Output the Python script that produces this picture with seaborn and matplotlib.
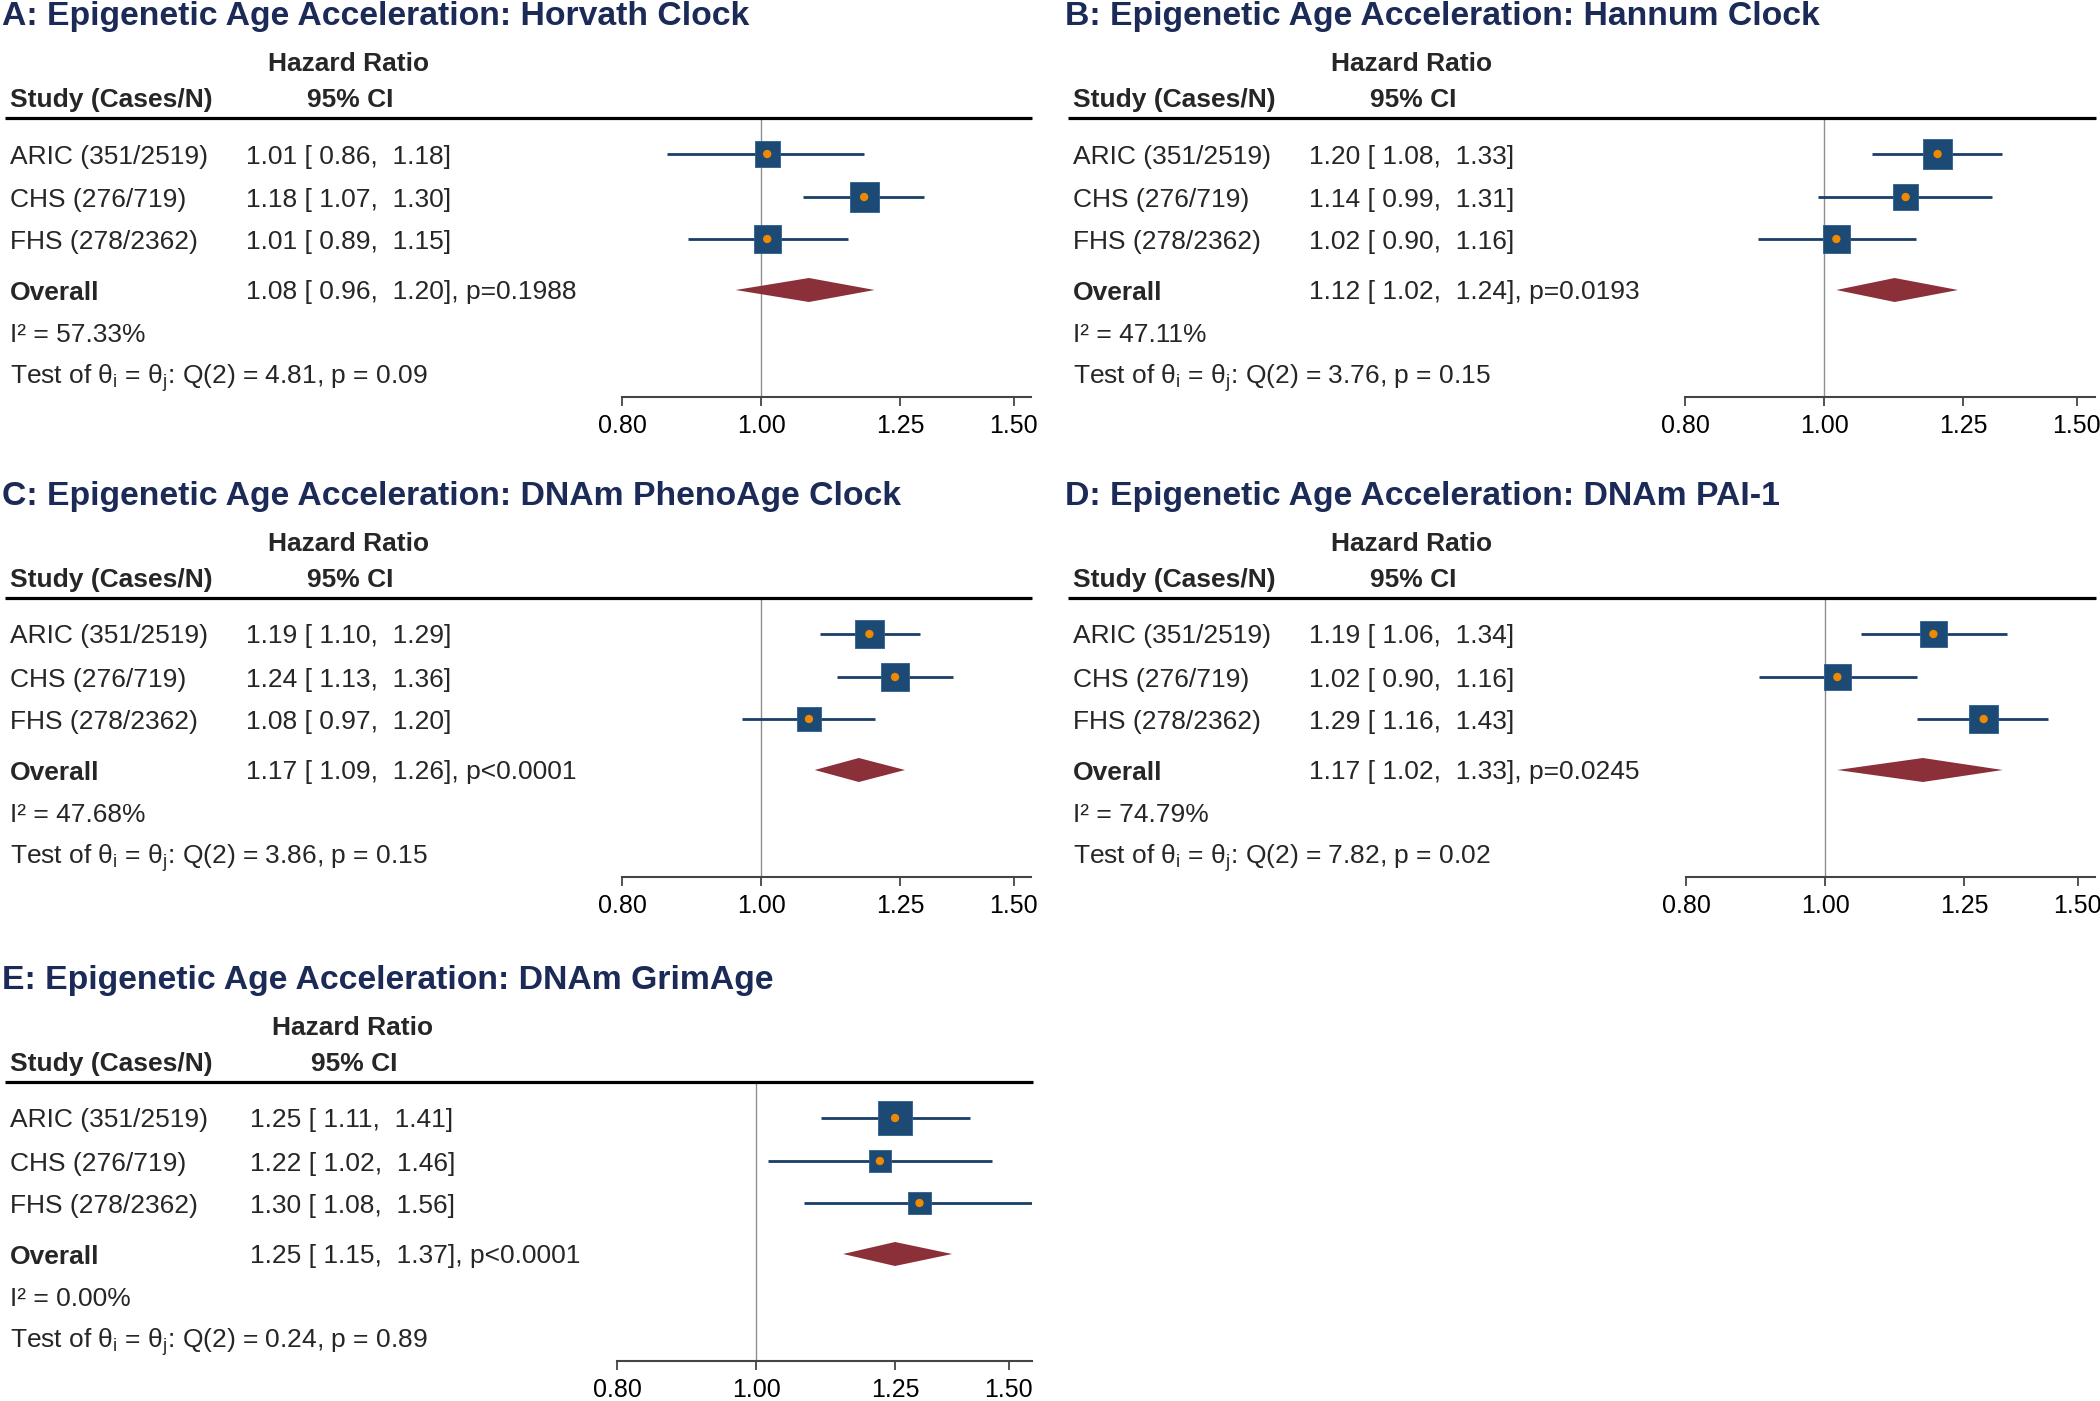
import numpy as np
import pandas as pd
import matplotlib
matplotlib.use('Agg')
import matplotlib.pyplot as plt
import matplotlib.transforms as mtransforms
import seaborn as sns

# ---- data ----
panel_titles = ['A: Epigenetic Age Acceleration: Horvath Clock',
                'B: Epigenetic Age Acceleration: Hannum Clock',
                'C: Epigenetic Age Acceleration: DNAm PhenoAge Clock',
                'D: Epigenetic Age Acceleration: DNAm PAI-1',
                'E: Epigenetic Age Acceleration: DNAm GrimAge']
studies = ['ARIC (351/2519)', 'CHS (276/719)', 'FHS (278/2362)']

study_hr = [[1.01, 1.18, 1.01], [1.20, 1.14, 1.02], [1.19, 1.24, 1.08],
            [1.19, 1.02, 1.29], [1.25, 1.22, 1.30]]
study_lo = [[0.86, 1.07, 0.89], [1.08, 0.99, 0.90], [1.10, 1.13, 0.97],
            [1.06, 0.90, 1.16], [1.11, 1.02, 1.08]]
study_hi = [[1.18, 1.30, 1.15], [1.33, 1.31, 1.16], [1.29, 1.36, 1.20],
            [1.34, 1.16, 1.43], [1.41, 1.46, 1.56]]
# study weights (%)
study_wt = [[28.5, 38.3, 33.2], [38.3, 28.5, 33.2], [37.4, 34.8, 27.8],
            [31.8, 31.8, 36.5], [52.9, 23.5, 23.5]]

overall_hr = [1.08, 1.12, 1.17, 1.17, 1.25]
overall_lo = [0.96, 1.02, 1.09, 1.02, 1.15]
overall_hi = [1.20, 1.24, 1.26, 1.33, 1.37]
overall_p = ['p=0.1988', 'p=0.0193', 'p<0.0001', 'p=0.0245', 'p<0.0001']
i_squared = [57.33, 47.11, 47.68, 74.79, 0.00]
q_stat = [4.81, 3.76, 3.86, 7.82, 0.24]
q_p = [0.09, 0.15, 0.15, 0.02, 0.89]

xticks = [0.80, 1.00, 1.25, 1.50]
xticklabels = ['0.80', '1.00', '1.25', '1.50']

# ---- layout (pixels, figure is 2100 x 1401) ----
W, H = 2100, 1401
# panel origin dx, dy, pixel of 0.80, right end of axis, nudge of the CI column
panels = [(0, 0, 622, 1031, 0), (1063, 0, 1685, 2095, 0),
          (0, 480, 622, 1031, 0), (1063, 480, 1686, 2095, 0),
          (0, 964, 617, 1032, 4)]
PX_PER_LOG = 623.0
HEAD_Y, SPINE_Y = 118, 397
ROW_Y = [154, 197, 239]
OV_Y, I2_Y, TEST_Y = 290, 333, 374
BASE = 9.5  # centre -> baseline

navy_title = '#1b2a56'
box_col = '#1c4a75'
ci_col = '#1a3e68'
dot_col = '#ef8a00'
dia_col = '#8b3039'

sns.set_theme(style='white')
plt.rcParams['font.family'] = ['Liberation Sans', 'DejaVu Sans']
plt.rcParams['mathtext.fontset'] = 'custom'
plt.rcParams['mathtext.rm'] = 'Liberation Sans'
plt.rcParams['mathtext.it'] = 'Liberation Sans'

fig = plt.figure(figsize=(W / 100, H / 100), dpi=100)

for k, (dx, dy, px08, pxr, tn) in enumerate(panels):
    left = px08 / W
    width = (pxr - px08) / W
    bottom = 1 - (SPINE_Y + dy) / H
    height = (SPINE_Y - HEAD_Y) / H
    ax = fig.add_axes([left, bottom, width, height])
    ax.set_xscale('log')
    xmax = np.exp(np.log(0.8) + (pxr - px08) / PX_PER_LOG)
    ax.set_xlim(0.8, xmax)
    ax.set_ylim(SPINE_Y, HEAD_Y)
    ax.set_facecolor('none')

    tr = mtransforms.blended_transform_factory(fig.transFigure, ax.transData)

    def fx(px, nudge=0):
        return (px + dx + nudge) / W

    # reference line at HR = 1
    ax.axvline(1.0, color='#8f8f8f', lw=1.0, zorder=1)

    # study CIs and boxes
    df = pd.DataFrame({'study': studies, 'hr': study_hr[k], 'lo': study_lo[k],
                       'hi': study_hi[k], 'wt': study_wt[k], 'y': ROW_Y})
    ax.hlines(df['y'], df['lo'], df['hi'], color=ci_col, lw=2.0, zorder=2)
    size_map = {s: (4.69 * np.sqrt(w) * 0.72) ** 2 for s, w in zip(df['study'], df['wt'])}
    sns.scatterplot(data=df, x='hr', y='y', size='study', sizes=size_map, marker='s',
                    color=box_col, edgecolor='#2d5f90', linewidth=0.6, legend=False,
                    ax=ax, zorder=3)
    sns.scatterplot(data=df, x='hr', y='y', s=36, color=dot_col, edgecolor='none',
                    legend=False, ax=ax, zorder=4)

    # overall diamond
    ohr, olo, ohi = overall_hr[k], overall_lo[k], overall_hi[k]
    ax.fill([olo, ohr, ohi, ohr], [OV_Y, OV_Y - 12, OV_Y, OV_Y + 12],
            color=dia_col, lw=0, zorder=3)

    # axis styling
    for side in ['top', 'left', 'right']:
        ax.spines[side].set_visible(False)
    ax.spines['bottom'].set_color('#444444')
    ax.spines['bottom'].set_linewidth(1.5)
    ax.set_xticks(xticks)
    ax.set_xticklabels(xticklabels)
    ax.minorticks_off()
    ax.tick_params(axis='x', which='major', direction='out', length=6.5, width=1.3,
                   color='#444444', labelsize=18, pad=6, labelcolor='black', bottom=True)
    ax.set_yticks([])
    ax.set_xlabel('')
    ax.set_ylabel('')

    # header line across the whole panel
    ax.plot([(5 + dx) / W, (pxr + 1) / W], [HEAD_Y, HEAD_Y], color='black', lw=2.3,
            transform=tr, clip_on=False, solid_capstyle='butt')

    # texts
    ax.text((2 + dx) / W, 25, panel_titles[k], transform=tr, fontsize=24.3,
            fontweight='bold', color=navy_title, va='baseline', ha='left')
    ax.text(fx(349, tn), 71, 'Hazard Ratio', transform=tr, fontsize=19,
            fontweight='bold', ha='center', va='baseline')
    ax.text(fx(10), 107, 'Study (Cases/N)', transform=tr, fontsize=19,
            fontweight='bold', ha='left', va='baseline')
    ax.text(fx(350, tn), 107, '95% CI', transform=tr, fontsize=19,
            fontweight='bold', ha='center', va='baseline')
    for s, h, lo, hi, y in zip(studies, study_hr[k], study_lo[k], study_hi[k], ROW_Y):
        ax.text(fx(10), y + BASE, s, transform=tr, fontsize=19, va='baseline')
        ax.text(fx(246, tn), y + BASE, f'{h:.2f} [ {lo:.2f},  {hi:.2f}]', transform=tr,
                fontsize=19, va='baseline')
    ax.text(fx(10), OV_Y + BASE, 'Overall', transform=tr, fontsize=19,
            fontweight='bold', va='baseline')
    ax.text(fx(246, tn), OV_Y + BASE, f'{ohr:.2f} [ {olo:.2f},  {ohi:.2f}], {overall_p[k]}',
            transform=tr, fontsize=19, va='baseline')
    ax.text(fx(10), I2_Y + BASE, f'I² = {i_squared[k]:.2f}%', transform=tr,
            fontsize=19, va='baseline')
    ax.text(fx(10), TEST_Y + BASE,
            r'Test of θ$_\mathregular{i}$ = θ$_\mathregular{j}$: '
            + f'Q(2) = {q_stat[k]:.2f}, p = {q_p[k]:.2f}',
            transform=tr, fontsize=19, va='baseline')

fig.savefig('out.png', dpi=100)
